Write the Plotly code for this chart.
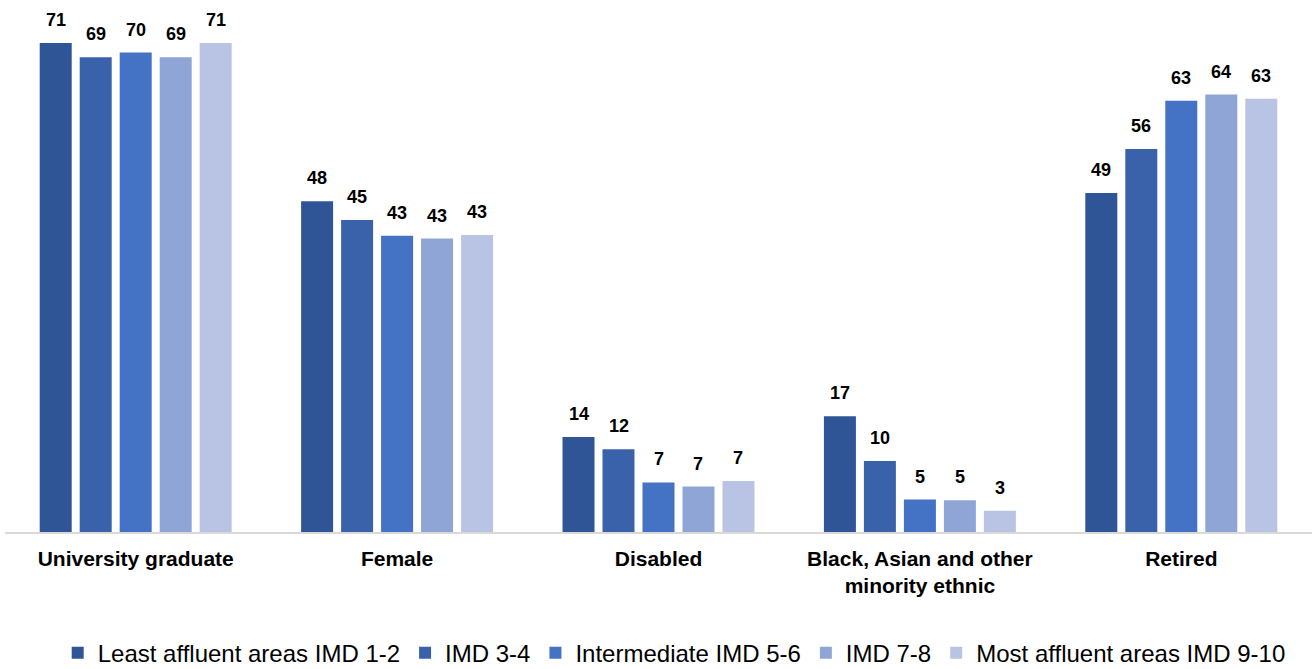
import plotly.graph_objects as go

categories = ["University graduate", "Female", "Disabled",
              "Black, Asian and other<br>minority ethnic", "Retired"]
series_names = ["Least affluent areas IMD 1-2", "IMD 3-4", "Intermediate IMD 5-6",
                "IMD 7-8", "Most affluent areas IMD 9-10"]
imd_1_2 = [71.0, 48.0, 13.8, 16.8, 49.2]
imd_3_4 = [68.9, 45.3, 12.0, 10.3, 55.6]
imd_5_6 = [69.6, 43.0, 7.2, 4.7, 62.6]
imd_7_8 = [68.9, 42.6, 6.6, 4.6, 63.5]
imd_9_10 = [71.0, 43.1, 7.4, 3.1, 62.9]
series_values = [imd_1_2, imd_3_4, imd_5_6, imd_7_8, imd_9_10]
colors = ["#2F5597", "#3A62AB", "#4472C4", "#8FA5D5", "#B9C3E3"]

BARGAP = 0.235
FONT = "Liberation Sans, Arial"
fig = go.Figure()
n = len(series_values)
slot = (1 - BARGAP) / n
for i, (name, vals) in enumerate(zip(series_names, series_values)):
    fig.add_trace(go.Bar(
        name=name, x=list(range(len(categories))), y=vals,
        marker=dict(color=colors[i], line=dict(width=0)),
        hoverinfo="y",
    ))
    for j, v in enumerate(vals):
        fig.add_annotation(
            x=j + (i - (n - 1) / 2) * slot, y=v, xref="x", yref="y",
            text=f"<b>{round(v)}</b>", showarrow=False, yanchor="bottom", yshift=11,
            font=dict(family=FONT, size=18, color="#000000"),
        )

fig.update_layout(
    width=1312, height=669,
    barmode="group", bargap=BARGAP, bargroupgap=0.2,
    plot_bgcolor="white", paper_bgcolor="white",
    margin=dict(l=5, r=0, t=5, b=137, autoexpand=False),
    font=dict(family=FONT, color="#000000"),
    xaxis=dict(
        tickmode="array", tickvals=list(range(len(categories))),
        ticktext=[f"<b>{c}</b>" for c in categories],
        tickfont=dict(size=21, color="#000000"),
        showline=True, linecolor="#D9D9D9", linewidth=1.5,
        ticks="", showgrid=False, range=[-0.5, len(categories) - 0.5],
        ticklabelstandoff=7, automargin=False,
    ),
    yaxis=dict(range=[0, 76.5], visible=False, showgrid=False),
    legend=dict(
        orientation="h", x=0.512, xanchor="center", y=-0.23, yanchor="middle",
        font=dict(size=24, color="#000000"), traceorder="normal",
        itemwidth=30, tracegroupgap=0,
    ),
    showlegend=True,
)

fig.write_html("out.html", config={"displayModeBar": False},
               post_script="document.body.style.margin='0';")
